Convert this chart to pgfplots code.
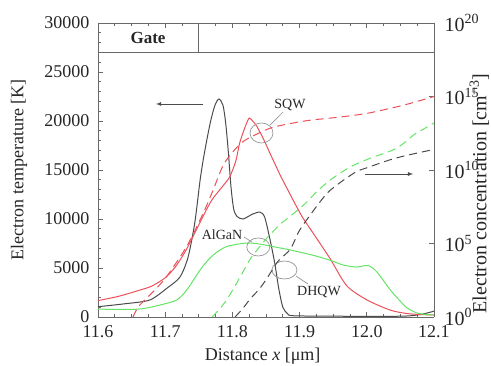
\documentclass[border=0pt]{standalone}
\usepackage{fontspec}
\setmainfont{Liberation Serif}
\usepackage{pgfplots}
\pgfplotsset{compat=1.18}
\usetikzlibrary{calc}
\definecolor{cgray}{RGB}{75,75,75}
\definecolor{cred}{RGB}{235,80,90}
\definecolor{cgreen}{RGB}{100,228,100}
\definecolor{cframe}{RGB}{105,105,105}
\definecolor{cann}{RGB}{150,150,150}
\begin{document}
\begin{tikzpicture}
\pgfplotsset{
  base/.style={scale only axis, width=336pt, height=294pt, xmin=11.6, xmax=12.1,
    axis line style={cframe, line width=0.8pt},
    major tick length=5pt, minor tick length=3pt,
    every tick/.style={cframe, line width=0.6pt},
    tick label style={font=\fontsize{18}{20}\selectfont, text=black!85},
    label style={font=\fontsize{18}{20}\selectfont, text=black!85},
  },
  temp/.style={line width=1pt, smooth, tension=0.45, no marks},
  conc/.style={line width=1pt, smooth, tension=0.45, no marks, dash pattern=on 8pt off 5pt},
}
\begin{axis}[base, name=main, at={(0pt,0pt)}, anchor=south west,
  axis y line*=left,
  ymin=0, ymax=30000, ytick={0,5000,10000,15000,20000,25000,30000}, minor y tick num=4,
  scaled y ticks=false,
  yticklabel style={xshift=-5pt, /pgf/number format/.cd, assume math mode=true, 1000 sep={}},
  xtick={11.6,11.7,11.8,11.9,12.0,12.1}, minor x tick num=3,
  xticklabel style={yshift=-5pt, /pgf/number format/.cd, assume math mode=true, fixed, fixed zerofill, precision=1},
  xlabel={Distance \textit{x} [μm]}, ylabel={Electron temperature [K]},
  xlabel style={at={(axis description cs:0.49,-0.133)}, anchor=center},
  ylabel style={at={(axis description cs:-0.235,0.5)}, anchor=center},
]
% DHQW temperature (gray solid)
\addplot[temp, cgray] coordinates {
(11.60,1050) (11.64,1350) (11.677,1730) (11.703,2960) (11.722,4080) (11.734,6100)
(11.744,9600) (11.752,14000) (11.758,16600) (11.767,19800) (11.774,21600) (11.780,22245)
(11.786,21600) (11.790,19800) (11.794,16800) (11.798,13200) (11.802,11000) (11.807,10250)
(11.816,10000) (11.83,10500) (11.841,10700) (11.848,10200) (11.856,7900) (11.863,5500)
(11.869,2900) (11.875,1000) (11.882,350) (11.89,130) (11.95,80) (12.05,80) (12.08,250) (12.1,600)
};
% SQW temperature (red solid)
\addplot[temp, cred] coordinates {
(11.60,1670) (11.63,2100) (11.66,2700) (11.68,3150) (11.70,4000) (11.715,5100) (11.73,6700)
(11.745,8700) (11.758,10500) (11.77,12000) (11.785,13300) (11.796,14300) (11.805,15900)
(11.811,17800) (11.819,19400) (11.825,20300) (11.830,20000) (11.836,19500) (11.846,18200)
(11.858,16400) (11.871,14500) (11.886,12500) (11.896,11200) (11.905,10100) (11.92,8570)
(11.945,6000) (11.97,3200) (12.0,1750) (12.035,700) (12.06,350) (12.08,250) (12.1,200)
};
% AlGaN temperature (green solid)
\addplot[temp, cgreen] coordinates {
(11.60,800) (11.66,800) (11.692,1220) (11.717,1730) (11.732,2750) (11.752,4800) (11.765,5900)
(11.777,6630) (11.79,7150) (11.801,7350) (11.822,7550) (11.84,7450) (11.871,7040) (11.886,6840)
(11.92,6300) (11.945,5800) (11.965,5300) (11.985,5100) (12.002,5250) (12.015,4600) (12.035,2760)
(12.05,1600) (12.06,920) (12.075,400) (12.09,250) (12.1,200)
};
% gate box
\draw[cframe, line width=0.8pt] (axis cs:11.6,27000) -- (axis cs:12.1,27000);
\draw[cframe, line width=0.8pt] (axis cs:11.75,27000) -- (axis cs:11.75,30000);
\node[font=\fontsize{17}{20}\selectfont\bfseries, text=black!85] at (axis cs:11.6744,28500) {Gate};
% arrows
\draw[cgray, line width=0.8pt, -latex] (axis cs:11.7565,21735) -- (axis cs:11.6863,21735);
\draw[cgray, line width=0.8pt, -latex] (axis cs:11.997,14590) -- (axis cs:12.069,14590);
% annotations
\draw[cann, line width=0.7pt] (axis cs:11.8433,18776) ellipse [x radius=11.5pt, y radius=10pt];
\draw[cann, line width=0.7pt] (axis cs:11.856,19592) -- (axis cs:11.8753,20918);
\node[font=\fontsize{14}{16}\selectfont, text=black!85] at (axis cs:11.8857,21633) {SQW};
\draw[cann, line width=0.7pt] (axis cs:11.8385,7145) ellipse [x radius=11.5pt, y radius=9pt];
\draw[cann, line width=0.7pt] (axis cs:11.8173,8163) -- (axis cs:11.8292,7653);
\node[font=\fontsize{14}{16}\selectfont, text=black!85] at (axis cs:11.7845,8367) {AlGaN};
\draw[cann, line width=0.7pt] (axis cs:11.8775,4796) ellipse [x radius=12.5pt, y radius=9pt];
\draw[cann, line width=0.7pt] (axis cs:11.8946,4184) -- (axis cs:11.9125,3367);
\node[font=\fontsize{14}{16}\selectfont, text=black!85] at (axis cs:11.9289,2551) {DHQW};
\end{axis}
\begin{axis}[base, at={(main.south west)}, anchor=south west,
  axis y line*=right, axis x line=none,
  ymin=0, ymax=20, ytick={0,5,10,15,20},
  yticklabels={10\textsuperscript{0},10\textsuperscript{5},10\textsuperscript{10},10\textsuperscript{15},10\textsuperscript{20}},
  tick label style={font=\fontsize{20}{22}\selectfont, text=black!85},
  yticklabel style={xshift=7pt},
  ylabel={Electron concentration [cm\textsuperscript{−3}]},
  ylabel style={at={(axis description cs:1.135,0.42)}, anchor=center, font=\fontsize{20}{22}\selectfont},
]
% log10 of concentration
\addplot[conc, cred] coordinates {
(11.652,0) (11.66,0.7) (11.673,1.3) (11.69,2.1) (11.703,2.8) (11.732,4.8) (11.756,7.0)
(11.771,8.6) (11.786,10.3) (11.80,11.2) (11.815,11.9) (11.83,12.3) (11.86,12.9) (11.91,13.35)
(11.96,13.6) (12.0,13.85) (12.045,14.3) (12.07,14.6) (12.1,15.0)
};
\addplot[conc, cgreen] coordinates {
(11.770,0) (11.78,0.5) (11.792,1.2) (11.81,2.6) (11.826,3.9) (11.834,4.4) (11.85,5.3)
(11.871,6.3) (11.89,7.0) (11.908,7.7) (11.925,8.5) (11.945,9.3) (11.975,10.2) (12.005,10.8)
(12.03,11.2) (12.045,11.5) (12.06,12.0) (12.07,12.4) (12.085,12.8) (12.1,13.2)
};
\addplot[conc, cgray] coordinates {
(11.804,0) (11.815,0.55) (11.826,1.2) (11.84,1.9) (11.851,2.6) (11.868,3.8) (11.886,4.6)
(11.9,5.9) (11.92,7.2) (11.935,8.1) (11.945,8.6) (11.965,9.3) (11.985,9.9) (12.0,10.15)
(12.035,10.7) (12.06,11.0) (12.1,11.4)
};
\end{axis}
\pgfresetboundingbox
\path[use as bounding box] ($(main.south west)+(-98pt,-49pt)$) rectangle ($(main.south west)+(393pt,317pt)$);
\end{tikzpicture}
\end{document}
